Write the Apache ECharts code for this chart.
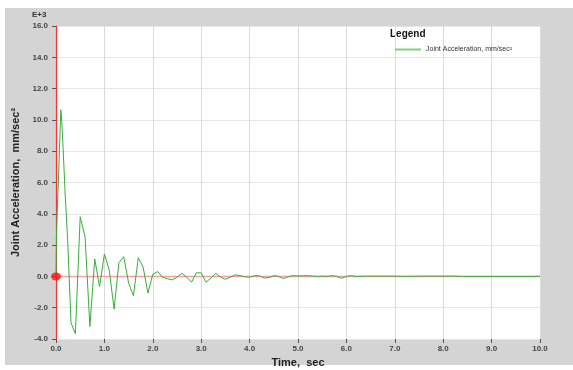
<!DOCTYPE html>
<html>
<head>
<meta charset="utf-8">
<script src="https://cdn.jsdelivr.net/npm/echarts@6/dist/echarts.min.js"></script>
<style>
html,body{margin:0;padding:0;background:#fff;}
#c{width:573px;height:370px;}
</style>
</head>
<body>
<div id="c"></div>
<script>
// ---- data (time in sec, acceleration in E+3 mm/sec^2) ----
var timeSec = [0, 0.01, 0.03, 0.05, 0.07, 0.1, 0.12, 0.14, 0.16, 0.19, 0.24, 0.31, 0.4, 0.5, 0.6, 0.7, 0.8, 0.9, 1.0,
  1.1, 1.2, 1.3, 1.4, 1.5, 1.6, 1.7, 1.8, 1.9, 2.0, 2.1, 2.2, 2.3, 2.4, 2.5, 2.6, 2.7, 2.8, 2.9, 3.0,
  3.1, 3.2, 3.3, 3.4, 3.5, 3.6, 3.7, 3.8, 3.9, 4.0, 4.1, 4.2, 4.3, 4.4, 4.5, 4.6, 4.7, 4.8, 4.9, 5.0,
  5.1, 5.2, 5.3, 5.4, 5.5, 5.6, 5.7, 5.8, 5.9, 6.0, 6.1, 6.2, 6.4, 7.0, 7.2, 7.6, 8.2, 8.4, 9.9, 10.0];
var accelE3 = [0, 2.6, 4.6, 6.1, 8.0, 10.65, 9.9, 8.6, 7.3, 5.2, 2.4, -2.97, -3.66, 3.81, 2.54, -3.2, 1.11, -0.65, 1.43,
  0.41, -2.09, 0.88, 1.26, -0.43, -1.24, 1.2, 0.59, -1.07, 0.14, 0.31, -0.05, -0.15, -0.22, -0.05, 0.2, -0.05, -0.37, 0.23, 0.23,
  -0.37, -0.1, 0.2, -0.05, -0.18, -0.05, 0.1, 0.05, -0.02, -0.05, 0.05, 0.04, -0.1, -0.08, 0.05, 0.0, -0.14, -0.02, 0.05, 0.03,
  0.04, 0.05, 0.02, 0.0, 0.02, 0.0, 0.05, 0.0, -0.12, 0.0, 0.05, 0.0, 0.02, 0.02, 0.0, 0.02, 0.02, 0.0, 0.0, 0.02];
var xTicks = [0, 1, 2, 3, 4, 5, 6, 7, 8, 9, 10];
var yTicks = [-4, -2, 0, 2, 4, 6, 8, 10, 12, 14, 16];
var seriesName = 'Joint Acceleration, mm/sec\u00B2';
var cursorPoint = [[0, 0]];
var zeroLine = [[0, 0], [10, 0]];

var FONT = '"Liberation Sans", Arial, sans-serif';
var chart = echarts.init(document.getElementById('c'), null, {renderer: 'canvas'});
var pairs = timeSec.map(function (t, i) { return [t, accelE3[i]]; });

chart.setOption({
  backgroundColor: '#ffffff',
  animation: false,
  graphic: [
    {type: 'rect', z: -10, shape: {x: 5, y: 8, width: 568, height: 357}, style: {fill: '#d4d4d4'}},
    {type: 'text', left: 32, top: 11, style: {text: 'E+3', font: 'bold 8px ' + FONT, fill: '#333'}},
    {type: 'text', left: 390, top: 29, style: {text: 'Legend', font: 'bold 10px ' + FONT, fill: '#111'}}
  ],
  grid: {left: 56, top: 26, width: 484, height: 313, show: true, backgroundColor: '#ffffff', borderWidth: 0,
    outerBoundsMode: 'none', containLabel: false},
  legend: {
    left: 390, top: 41, itemWidth: 26, itemHeight: 2, itemGap: 4,
    icon: 'rect',
    data: [seriesName],
    textStyle: {fontFamily: FONT, fontSize: 7, color: '#333'}
  },
  xAxis: {
    type: 'value', min: xTicks[0], max: xTicks[xTicks.length - 1], interval: 1,
    name: 'Time,  sec', nameLocation: 'middle', nameGap: 17,
    nameTextStyle: {fontFamily: FONT, fontSize: 11, fontWeight: 'bold', color: '#222'},
    axisLine: {show: false, onZero: false},
    axisTick: {show: true, length: 4, lineStyle: {color: '#555'}},
    axisLabel: {margin: 6, fontFamily: FONT, fontSize: 8, fontWeight: 'bold', color: '#444',
      formatter: function (v) { return v.toFixed(1); }},
    splitLine: {show: true, lineStyle: {color: '#dadada', width: 1}}
  },
  yAxis: {
    type: 'value', min: yTicks[0], max: yTicks[yTicks.length - 1], interval: 2,
    name: 'Joint Acceleration,  mm/sec\u00B2', nameLocation: 'middle', nameGap: 29, nameRotate: 90,
    nameTextStyle: {fontFamily: FONT, fontSize: 11, fontWeight: 'bold', color: '#222'},
    axisLine: {show: true, onZero: false, lineStyle: {color: '#ff3030', width: 1.2}},
    axisTick: {show: true, length: 4, lineStyle: {color: '#555'}},
    axisLabel: {margin: 8, fontFamily: FONT, fontSize: 8, fontWeight: 'bold', color: '#444',
      formatter: function (v) { return v.toFixed(1); }},
    splitLine: {show: true, lineStyle: {color: '#e6e6e6', width: 1}}
  },
  series: [
    {
      name: 'zero', type: 'line', data: zeroLine, showSymbol: false, silent: true,
      lineStyle: {color: '#f5a0a0', width: 1.5}, z: 2
    },
    {
      name: seriesName, type: 'line', data: pairs, showSymbol: false,
      lineStyle: {color: '#3aad3a', width: 1}, itemStyle: {color: '#7fd07f'}, z: 3
    },
    {
      name: 'cursor', type: 'scatter', data: cursorPoint, symbol: 'circle', symbolSize: [10, 8],
      itemStyle: {color: '#ff1010'}, z: 5, silent: true
    }
  ]
});
</script>
</body>
</html>
